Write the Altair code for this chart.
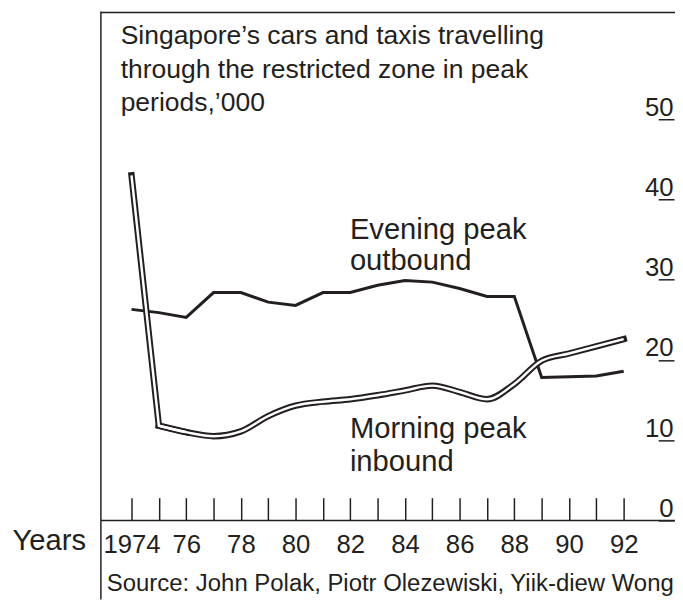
import altair as alt
import pandas as pd

# ---------------- data ----------------
years = list(range(1974, 1993))
morning_inbound = [43.0, 11.8, 11.0, 10.5, 11.1, 13.0, 14.3, 14.8, 15.1, 15.6,
                   16.2, 16.8, 16.0, 15.1, 17.0, 19.9, 20.8, 21.7, 22.6]
evening_outbound = [26.3, 25.9, 25.3, 28.4, 28.4, 27.2, 26.8, 28.4, 28.4, 29.3,
                    29.9, 29.7, 28.9, 27.9, 27.9, 17.8, 17.9, 18.0, 18.6]

tick_years = years
label_years = [1974, 1976, 1978, 1980, 1982, 1984, 1986, 1988, 1990, 1992]
label_texts = ["1974", "76", "78", "80", "82", "84", "86", "88", "90", "92"]
y_ticks = [0, 10, 20, 30, 40, 50]

title_lines = ["Singapore\u2019s cars and taxis travelling",
               "through the restricted zone in peak",
               "periods,\u2019000"]
evening_label = ["Evening peak", "outbound"]
morning_label = ["Morning peak", "inbound"]
x_title = "Years"
source_text = "Source: John Polak, Piotr Olezewiski, Yiik-diew Wong"

# ---------------- layout ----------------
FONT = "Liberation Sans"
INK = "#231f20"
W, H = 580, 515
PAD_L, PAD_R, PAD_T, PAD_B = 94, 1, 0, 80

rows = []
for yr, m, e in zip(years, morning_inbound, evening_outbound):
    rows.append({"year": yr, "value": m, "series": "morning"})
    rows.append({"year": yr, "value": e, "series": "evening"})
df = pd.DataFrame(rows)

expr = ""
for yv, txt in zip(label_years, label_texts):
    expr += f"datum.value == {yv} ? '{txt}' : "
expr += "''"

x_enc = alt.X(
    "year:Q",
    title=None,
    scale=alt.Scale(domain=[1972.88, 1993.84], nice=False, zero=False),
    axis=alt.Axis(
        orient="bottom", values=tick_years, labelExpr=expr, offset=-23,
        tickSize=23, tickWidth=1.5, tickColor=INK, domain=False, grid=False,
        labelPadding=32, labelBaseline="alphabetic", labelFontSize=26,
        labelFont=FONT, labelColor=INK, labelFlush=False, labelOverlap=False,
    ),
)
y_enc = alt.Y(
    "value:Q",
    title=None,
    scale=alt.Scale(domain=[0, 63.42], nice=False, zero=True),
    axis=alt.Axis(
        orient="right", values=y_ticks, offset=-16, tickSize=16, tickWidth=1.5,
        tickColor=INK, domain=False, grid=False, labelAlign="right",
        labelPadding=-1, labelBaseline="alphabetic", labelOffset=-4,
        labelFontSize=26, labelFont=FONT, labelColor=INK, labelFlush=False,
        labelOverlap=False,
    ),
)

base = alt.Chart(df)

evening = base.transform_filter(alt.datum.series == "evening").mark_line(
    color=INK, strokeWidth=3, strokeJoin="miter"
).encode(x=x_enc, y=y_enc)

m_a = base.transform_filter(
    (alt.datum.series == "morning") & (alt.datum.year <= 1976))
m_b = base.transform_filter(
    (alt.datum.series == "morning") & (alt.datum.year >= 1975))

m_a_black = m_a.mark_line(color=INK, strokeWidth=6.5, strokeCap="square",
                          strokeJoin="miter", interpolate="linear").encode(x=x_enc, y=y_enc)
m_b_black = m_b.mark_line(color=INK, strokeWidth=6.5, strokeCap="square",
                          interpolate="monotone").encode(x=x_enc, y=y_enc)
m_a_white = m_a.mark_line(color="white", strokeWidth=2.5, strokeCap="butt",
                          strokeJoin="miter", interpolate="linear").encode(x=x_enc, y=y_enc)
m_b_white = m_b.mark_line(color="white", strokeWidth=2.5, strokeCap="butt",
                          interpolate="monotone").encode(x=x_enc, y=y_enc)

one = alt.Data(values=[{}])

frame_left = alt.Chart(one).mark_rule(color=INK, strokeWidth=1.5).encode(
    x=alt.value(0), y=alt.value(0), y2=alt.value(H + PAD_B))
frame_top = alt.Chart(one).mark_rule(color=INK, strokeWidth=1.5).encode(
    x=alt.value(0), x2=alt.value(W + PAD_R), y=alt.value(1))
frame_bottom = alt.Chart(one).mark_rule(color=INK, strokeWidth=1.5).encode(
    x=alt.value(0), x2=alt.value(W + PAD_R), y=alt.value(H))


def label(lines, x, y, size, lh, align="left"):
    return alt.Chart(one).mark_text(
        text=lines, align=align, baseline="alphabetic", font=FONT,
        fontSize=size, lineHeight=lh, color=INK,
    ).encode(x=alt.value(x), y=alt.value(y))


title = label(title_lines, 20, 33, 26.8, 34)
ev_lbl = label(evening_label, 252, 230, 29.5, 32)
mo_lbl = label(morning_label, 252, 432, 29.5, 33)
years_lbl = label(x_title, -15, 545, 29.5, 30, align="right")
src_lbl = label(source_text, 6, 586, 24.2, 28)

chart = alt.layer(
    evening, m_a_black, m_b_black, m_a_white, m_b_white,
    frame_left, frame_top, frame_bottom,
    title, ev_lbl, mo_lbl, years_lbl, src_lbl,
).properties(
    width=W, height=H, autosize="none",
    padding={"left": PAD_L, "right": PAD_R, "top": PAD_T, "bottom": PAD_B},
    background="white",
).configure_view(strokeWidth=0)

chart.save("out.html", embed_options={"renderer": "svg", "actions": False})
